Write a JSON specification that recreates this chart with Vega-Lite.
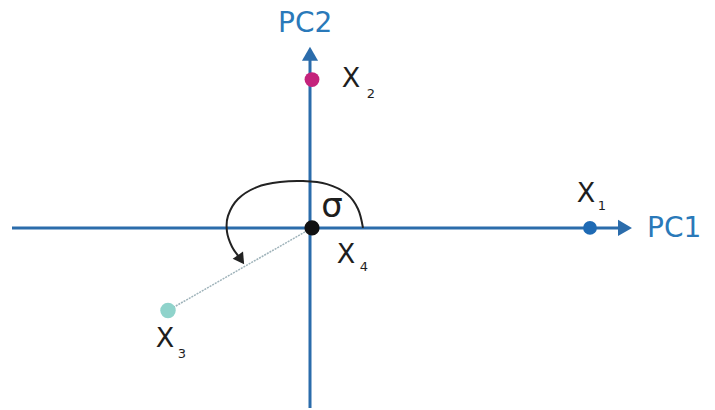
{
  "$schema": "https://vega.github.io/schema/vega-lite/v6.json",
  "width": 715,
  "height": 410,
  "autosize": {"type": "fit", "contains": "padding"},
  "padding": 0,
  "background": "white",
  "config": {"view": {"stroke": null}},
  "encoding": {
    "x": {"type": "quantitative", "scale": {"domain": [0, 715], "nice": false, "zero": false}, "axis": null},
    "y": {"type": "quantitative", "scale": {"domain": [0, 410], "nice": false, "zero": false, "reverse": true}, "axis": null}
  },
  "layer": [
    {
      "data": {"values": [
        {"x": 12, "x2": 622, "y": 229, "y2": 229},
        {"x": 310, "x2": 310, "y": 410, "y2": 58}
      ]},
      "mark": {"type": "rule", "color": "#2b6cab", "strokeWidth": 3},
      "encoding": {
        "x": {"field": "x", "type": "quantitative"},
        "x2": {"field": "x2"},
        "y": {"field": "y", "type": "quantitative"},
        "y2": {"field": "y2"}
      }
    },
    {
      "data": {"values": [
        {"x": 625, "y": 229, "shape": "triangle-right"},
        {"x": 310, "y": 54, "shape": "triangle-up"}
      ]},
      "mark": {"type": "point", "filled": true, "color": "#2b6cab", "opacity": 1, "size": 260},
      "encoding": {
        "x": {"field": "x", "type": "quantitative"},
        "y": {"field": "y", "type": "quantitative"},
        "shape": {"field": "shape", "type": "nominal", "scale": null}
      }
    },
    {
      "data": {"values": [
        {"x": 312, "y": 229},
        {"x": 168, "y": 312}
      ]},
      "mark": {"type": "line", "color": "#9fb3ba", "strokeWidth": 1.5, "strokeDash": [2, 1]},
      "encoding": {
        "x": {"field": "x", "type": "quantitative"},
        "y": {"field": "y", "type": "quantitative"}
      }
    },
    {
      "data": {"values": [
        {"i": 0, "x": 363, "y": 229},
        {"i": 1, "x": 358, "y": 210},
        {"i": 2, "x": 347, "y": 195},
        {"i": 3, "x": 327, "y": 185},
        {"i": 4, "x": 303, "y": 182},
        {"i": 5, "x": 280, "y": 183},
        {"i": 6, "x": 257, "y": 188},
        {"i": 7, "x": 238, "y": 200},
        {"i": 8, "x": 228, "y": 217},
        {"i": 9, "x": 227, "y": 233},
        {"i": 10, "x": 232, "y": 248},
        {"i": 11, "x": 239, "y": 258}
      ]},
      "mark": {"type": "line", "color": "#222222", "strokeWidth": 2, "interpolate": "cardinal"},
      "encoding": {
        "x": {"field": "x", "type": "quantitative"},
        "y": {"field": "y", "type": "quantitative"},
        "order": {"field": "i", "type": "quantitative"}
      }
    },
    {
      "data": {"values": [{"x": 241, "y": 261}]},
      "mark": {"type": "point", "shape": "triangle-up", "filled": true, "color": "#222222", "opacity": 1, "size": 160, "angle": 145},
      "encoding": {
        "x": {"field": "x", "type": "quantitative"},
        "y": {"field": "y", "type": "quantitative"}
      }
    },
    {
      "data": {"values": [
        {"name": "X1", "x": 590, "y": 229, "c": "#1e6ab4", "s": 190},
        {"name": "X2", "x": 312, "y": 80, "c": "#c4237c", "s": 220},
        {"name": "X3", "x": 168, "y": 312, "c": "#8fd3cb", "s": 240},
        {"name": "X4", "x": 312, "y": 229, "c": "#111111", "s": 230}
      ]},
      "mark": {"type": "circle", "opacity": 1},
      "encoding": {
        "x": {"field": "x", "type": "quantitative"},
        "y": {"field": "y", "type": "quantitative"},
        "color": {"field": "c", "type": "nominal", "scale": null},
        "size": {"field": "s", "type": "quantitative", "scale": null}
      }
    },
    {
      "data": {"values": [
        {"t": "PC1", "x": 647, "y": 230},
        {"t": "PC2", "x": 278, "y": 24}
      ]},
      "mark": {"type": "text", "align": "left", "baseline": "middle", "fontSize": 28, "font": "DejaVu Sans", "color": "#2a79b9"},
      "encoding": {
        "x": {"field": "x", "type": "quantitative"},
        "y": {"field": "y", "type": "quantitative"},
        "text": {"field": "t"}
      }
    },
    {
      "data": {"values": [
        {"t": "X", "x": 586, "y": 195},
        {"t": "X", "x": 351, "y": 79},
        {"t": "X", "x": 165, "y": 341},
        {"t": "X", "x": 346, "y": 256}
      ]},
      "mark": {"type": "text", "align": "center", "baseline": "middle", "fontSize": 27, "font": "DejaVu Sans", "color": "#1e1e1e"},
      "encoding": {
        "x": {"field": "x", "type": "quantitative"},
        "y": {"field": "y", "type": "quantitative"},
        "text": {"field": "t"}
      }
    },
    {
      "data": {"values": [
        {"t": "1", "x": 602, "y": 207},
        {"t": "2", "x": 371, "y": 94},
        {"t": "3", "x": 182, "y": 356},
        {"t": "4", "x": 364, "y": 268}
      ]},
      "mark": {"type": "text", "align": "center", "baseline": "middle", "fontSize": 13, "font": "DejaVu Sans", "color": "#1e1e1e"},
      "encoding": {
        "x": {"field": "x", "type": "quantitative"},
        "y": {"field": "y", "type": "quantitative"},
        "text": {"field": "t"}
      }
    },
    {
      "data": {"values": [{"t": "σ", "x": 332, "y": 208}]},
      "mark": {"type": "text", "align": "center", "baseline": "middle", "fontSize": 34, "font": "DejaVu Sans", "color": "#1e1e1e"},
      "encoding": {
        "x": {"field": "x", "type": "quantitative"},
        "y": {"field": "y", "type": "quantitative"},
        "text": {"field": "t"}
      }
    }
  ]
}
